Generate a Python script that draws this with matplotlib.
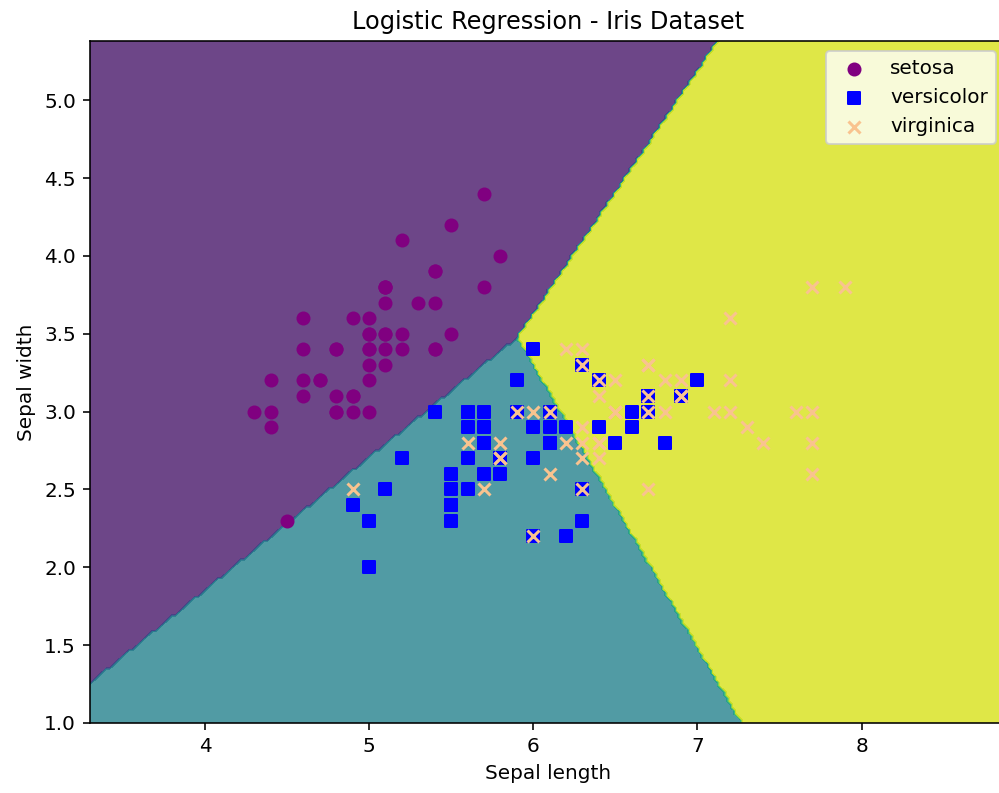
import numpy as np
import matplotlib
matplotlib.use("Agg")
import matplotlib.pyplot as plt

class_names = ["setosa", "versicolor", "virginica"]

setosa_length = [5.1, 4.9, 4.7, 4.6, 5.0, 5.4, 4.6, 5.0, 4.4, 4.9, 5.4, 4.8, 4.8, 4.3, 5.8, 5.7, 5.4, 5.1, 5.7, 5.1,
                 5.4, 5.1, 4.6, 5.1, 4.8, 5.0, 5.0, 5.2, 5.2, 4.7, 4.8, 5.4, 5.2, 5.5, 4.9, 5.0, 5.5, 4.9, 4.4, 5.1,
                 5.0, 4.5, 4.4, 5.0, 5.1, 4.8, 5.1, 4.6, 5.3, 5.0]
setosa_width = [3.5, 3.0, 3.2, 3.1, 3.6, 3.9, 3.4, 3.4, 2.9, 3.1, 3.7, 3.4, 3.0, 3.0, 4.0, 4.4, 3.9, 3.5, 3.8, 3.8,
                3.4, 3.7, 3.6, 3.3, 3.4, 3.0, 3.4, 3.5, 3.4, 3.2, 3.1, 3.4, 4.1, 4.2, 3.1, 3.2, 3.5, 3.6, 3.0, 3.4,
                3.5, 2.3, 3.2, 3.5, 3.8, 3.0, 3.8, 3.2, 3.7, 3.3]
versicolor_length = [7.0, 6.4, 6.9, 5.5, 6.5, 5.7, 6.3, 4.9, 6.6, 5.2, 5.0, 5.9, 6.0, 6.1, 5.6, 6.7, 5.6, 5.8, 6.2, 5.6,
                     5.9, 6.1, 6.3, 6.1, 6.4, 6.6, 6.8, 6.7, 6.0, 5.7, 5.5, 5.5, 5.8, 6.0, 5.4, 6.0, 6.7, 6.3, 5.6, 5.5,
                     5.5, 6.1, 5.8, 5.0, 5.6, 5.7, 5.7, 6.2, 5.1, 5.7]
versicolor_width = [3.2, 3.2, 3.1, 2.3, 2.8, 2.8, 3.3, 2.4, 2.9, 2.7, 2.0, 3.0, 2.2, 2.9, 2.9, 3.1, 3.0, 2.7, 2.2, 2.5,
                    3.2, 2.8, 2.5, 2.8, 2.9, 3.0, 2.8, 3.0, 2.9, 2.6, 2.4, 2.4, 2.7, 2.7, 3.0, 3.4, 3.1, 2.3, 3.0, 2.5,
                    2.6, 3.0, 2.6, 2.3, 2.7, 3.0, 2.9, 2.9, 2.5, 2.8]
virginica_length = [6.3, 5.8, 7.1, 6.3, 6.5, 7.6, 4.9, 7.3, 6.7, 7.2, 6.5, 6.4, 6.8, 5.7, 5.8, 6.4, 6.5, 7.7, 7.7, 6.0,
                    6.9, 5.6, 7.7, 6.3, 6.7, 7.2, 6.2, 6.1, 6.4, 7.2, 7.4, 7.9, 6.4, 6.3, 6.1, 7.7, 6.3, 6.4, 6.0, 6.9,
                    6.7, 6.9, 5.8, 6.8, 6.7, 6.7, 6.3, 6.5, 6.2, 5.9]
virginica_width = [3.3, 2.7, 3.0, 2.9, 3.0, 3.0, 2.5, 2.9, 2.5, 3.6, 3.2, 2.7, 3.0, 2.5, 2.8, 3.2, 3.0, 3.8, 2.6, 2.2,
                   3.2, 2.8, 2.8, 2.7, 3.3, 3.2, 2.8, 3.0, 2.8, 3.0, 2.8, 3.8, 2.8, 2.8, 2.6, 3.0, 3.4, 3.1, 3.0, 3.1,
                   3.1, 3.1, 2.7, 3.2, 3.3, 3.0, 2.5, 3.0, 3.4, 3.0]

lengths = [setosa_length, versicolor_length, virginica_length]
widths = [setosa_width, versicolor_width, virginica_width]

X = np.column_stack([np.concatenate(lengths), np.concatenate(widths)])
y = np.concatenate([np.full(len(l), i) for i, l in enumerate(lengths)])


def fit_logreg(X, y, C=1.0, iters=30000, lr=0.5):
    """Multinomial L2 logistic regression (intercept not penalised)."""
    n, d = X.shape
    k = int(y.max()) + 1
    mu = X.mean(0)
    Xc = X - mu
    W = np.zeros((d, k))
    b = np.zeros(k)
    Y = np.eye(k)[y]
    for _ in range(iters):
        Z = Xc @ W + b
        Z -= Z.max(1, keepdims=True)
        P = np.exp(Z)
        P /= P.sum(1, keepdims=True)
        G = P - Y
        W -= lr * (Xc.T @ G / n + W / (C * n))
        b -= lr * G.mean(0)
    return W, b - mu @ W


W, b = fit_logreg(X, y)

h = 0.02
x_min, x_max = X[:, 0].min() - 1, X[:, 0].max() + 1
y_min, y_max = X[:, 1].min() - 1, X[:, 1].max() + 1
xx, yy = np.meshgrid(np.arange(x_min, x_max, h), np.arange(y_min, y_max, h))
grid = np.c_[xx.ravel(), yy.ravel()]
Zg = np.argmax(grid @ W + b, axis=1).reshape(xx.shape)

dpi = 144
fig = plt.figure(figsize=(999 / dpi, 793 / dpi), dpi=dpi)
ax = fig.add_axes([90 / 999, 1 - 723 / 793, (1006 - 90) / 999, (723 - 41) / 793])
ax.contourf(xx, yy, Zg, alpha=0.8, cmap="viridis")

colors = ["purple", "blue", "#f9c38f"]
markers = ["o", "s", "x"]
for name, lx, wy, c, m in zip(class_names, lengths, widths, colors, markers):
    ax.scatter(lx, wy, c=c, marker=m, label=name)

ax.set_xlim(xx.min(), xx.max())
ax.set_ylim(yy.min(), yy.max())
ax.set_xlabel("Sepal length")
ax.set_ylabel("Sepal width")
ax.set_title("Logistic Regression - Iris Dataset")
ax.legend(loc="upper right")

fig.savefig("out.png", dpi=dpi)
